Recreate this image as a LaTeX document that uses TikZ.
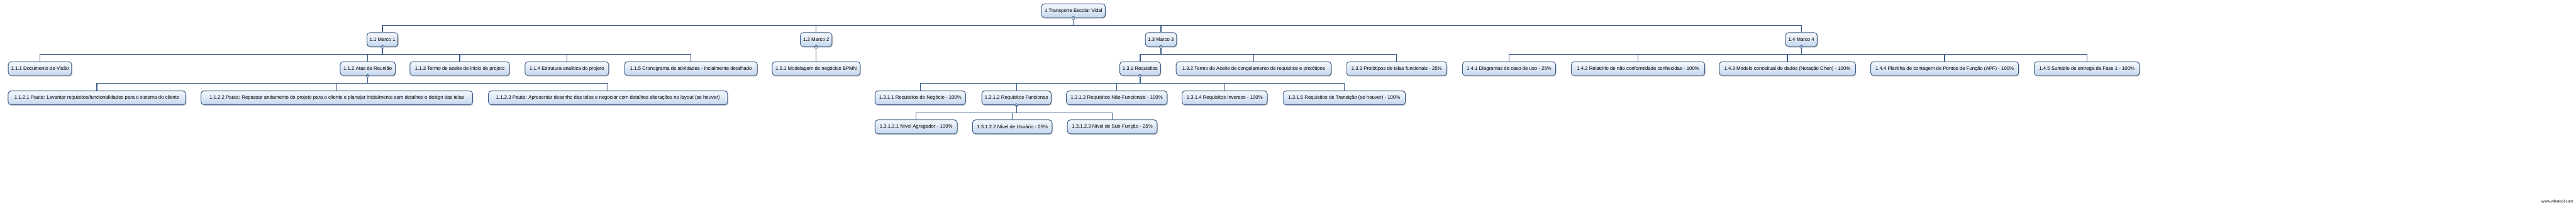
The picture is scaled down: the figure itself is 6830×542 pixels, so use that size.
\documentclass[tikz,border=0pt]{standalone}
\usepackage{fontspec}
\setmainfont{Liberation Sans}
\usetikzlibrary{shadows}
\definecolor{wbsline}{HTML}{3E5E88}
\definecolor{wbsborder}{HTML}{3A5A84}
\definecolor{wbstop}{HTML}{F6F9FD}
\definecolor{wbsbot}{HTML}{C4D6EE}
\definecolor{wbsknob}{HTML}{C9D9EE}
\begin{document}
\begin{tikzpicture}[x=1pt,y=1pt,
  wbsbox/.style={draw=wbsborder, line width=1.6pt, rounded corners=8pt,
    top color=wbstop, bottom color=wbsbot, minimum height=37pt,
    inner xsep=5pt, inner ysep=0pt, font=\fontsize{13}{15}\selectfont,
    drop shadow={shadow xshift=2pt, shadow yshift=-2.5pt, opacity=0.35, fill=black!60}},
  conn/.style={draw=wbsline, line width=2.2pt},
  knob/.style={circle, draw=wbsborder, fill=wbsknob, line width=1pt,
    minimum size=8pt, inner sep=0pt,
    path picture={\draw[wbsborder, line width=1pt]
      ([xshift=-2.2pt]path picture bounding box.center) --
      ([xshift=2.2pt]path picture bounding box.center);}}
]
\fill[white] (0,0) rectangle (6830,-542);
\useasboundingbox (0,0) rectangle (6830,-542);

% root
\node[wbsbox, minimum width=169pt] (root) at (2846,-28.5) {1 Transporte Escolar Vidal};
% level 1
\node[wbsbox, minimum width=82pt] (m1) at (1014,-105) {1.1 Marco 1};
\node[wbsbox, minimum width=84pt] (m2) at (2164,-105) {1.2 Marco 2};
\node[wbsbox, minimum width=83pt] (m3) at (3078,-105) {1.3 Marco 3};
\node[wbsbox, minimum width=84pt] (m4) at (4776,-105) {1.4 Marco 4};
% level 2
\node[wbsbox, minimum width=168pt] (n111) at (106,-182) {1.1.1 Documento de Visão};
\node[wbsbox, minimum width=146pt] (n112) at (975,-182) {1.1.2 Atas de Reunião};
\node[wbsbox, minimum width=264pt] (n113) at (1219,-182) {1.1.3 Termo de aceite de inicio de projeto};
\node[wbsbox, minimum width=222pt] (n114) at (1503,-182) {1.1.4 Estrutura analitica do projeto};
\node[wbsbox, minimum width=352pt] (n115) at (1832,-182) {1.1.5 Cronograma de atividades - incialmente detalhado};
\node[wbsbox, minimum width=233pt] (n121) at (2164,-182) {1.2.1 Modelagem de negócios BPMN};
\node[wbsbox, minimum width=108pt] (n131) at (3023,-182) {1.3.1 Requisitos};
\node[wbsbox, minimum width=411pt] (n132) at (3324,-182) {1.3.2 Termo de Aceite de congelamento de requisitos e protótipos};
\node[wbsbox, minimum width=266pt] (n133) at (3703,-182) {1.3.3 Protótipos de telas funcionais - 25\%};
\node[wbsbox, minimum width=247pt] (n141) at (4001,-182) {1.4.1 Diagramas de caso de uso - 25\%};
\node[wbsbox, minimum width=354pt] (n142) at (4343,-182) {1.4.2 Relatório de não conformidade conhecidas - 100\%};
\node[wbsbox, minimum width=361pt] (n143) at (4739,-182) {1.4.3 Modelo conceitual de dados (Notação Chen) - 100\%};
\node[wbsbox, minimum width=392pt] (n144) at (5156,-182) {1.4.4 Planilha de contagem de Pontos de Função (APF) - 100\%};
\node[wbsbox, minimum width=279pt] (n145) at (5533,-182) {1.4.5 Sumário de entrega da Fase 1 - 100\%};
% level 3
\node[wbsbox, minimum width=471pt] (n1121) at (257,-259.5) {1.1.2.1 Pauta: Levantar requisitos/funcionalidades para o sistema do cliente};
\node[wbsbox, minimum width=720pt] (n1122) at (893,-259.5) {1.1.2.2 Pauta: Repassar andamento do projeto para o cliente e planejar inicialmente sem detalhes o design das telas};
\node[wbsbox, minimum width=634pt] (n1123) at (1612,-259.5) {1.1.2.3 Pauta: Apresentar desenho das telas e negociar com detalhes alterações no layout (se houver)};
\node[wbsbox, minimum width=240pt] (n1311) at (2440,-259.5) {1.3.1.1 Requisitos de Negócio - 100\%};
\node[wbsbox, minimum width=184pt] (n1312) at (2695,-259.5) {1.3.1.2 Requisitos Funcionas};
\node[wbsbox, minimum width=267pt] (n1313) at (2961,-259.5) {1.3.1.3 Requisitos Não-Funcionais - 100\%};
\node[wbsbox, minimum width=226pt] (n1314) at (3247,-259.5) {1.3.1.4 Requisitos Inversos - 100\%};
\node[wbsbox, minimum width=324pt] (n1315) at (3564,-259.5) {1.3.1.5 Requisitos de Transição (se houver) - 100\%};
% level 4
\node[wbsbox, minimum width=218pt] (n13121) at (2429,-336.5) {1.3.1.2.1 Nível Agregador - 100\%};
\node[wbsbox, minimum width=211pt] (n13122) at (2684,-336.5) {1.3.1.2.2 Nível de Usuário - 25\%};
\node[wbsbox, minimum width=238pt] (n13123) at (2949,-336.5) {1.3.1.2.3 Nível de Sub-Função - 25\%};

% connectors
\foreach \c in {m1,m2,m3,m4} \draw[conn] (root.south) -- ++(0,-20) -| (\c.north);
\foreach \c in {n111,n112,n113,n114,n115} \draw[conn] (m1.south) -- ++(0,-20) -| (\c.north);
\draw[conn] (m2.south) -- (n121.north);
\foreach \c in {n131,n132,n133} \draw[conn] (m3.south) -- ++(0,-20) -| (\c.north);
\foreach \c in {n141,n142,n143,n144,n145} \draw[conn] (m4.south) -- ++(0,-20) -| (\c.north);
\foreach \c in {n1121,n1122,n1123} \draw[conn] (n112.south) -- ++(0,-20) -| (\c.north);
\foreach \c in {n1311,n1312,n1313,n1314,n1315} \draw[conn] (n131.south) -- ++(0,-20) -| (\c.north);
\foreach \c in {n13121,n13122,n13123} \draw[conn] (n1312.south) -- ++(0,-20) -| (\c.north);

% collapse knobs
\node[knob] (k0) at (root.south) {};
\node[knob] (k1) at (m1.south) {};
\node[knob] (k2) at (m2.south) {};
\node[knob] (k3) at (m3.south) {};
\node[knob] (k4) at (m4.south) {};
\node[knob] (k5) at (n112.south) {};
\node[knob] (k6) at (n131.south) {};
\node[knob] (k7) at (n1312.south) {};

% watermark
\node[anchor=east, inner sep=0pt, font=\fontsize{10.6}{12}\selectfont] (wm) at (6823,-534) {www.wbstool.com};
\end{tikzpicture}
\end{document}
